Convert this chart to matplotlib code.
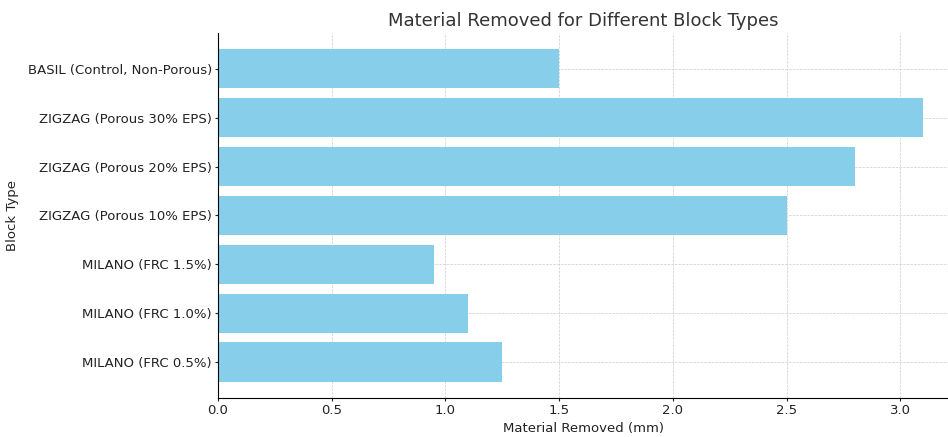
import matplotlib
matplotlib.use("Agg")
from matplotlib import pyplot as plt

# tipos de bloco (de baixo para cima) e material removido em mm
block_types = ["MILANO (FRC 0.5%)", "MILANO (FRC 1.0%)", "MILANO (FRC 1.5%)",
               "ZIGZAG (Porous 10% EPS)", "ZIGZAG (Porous 20% EPS)",
               "ZIGZAG (Porous 30% EPS)", "BASIL (Control, Non-Porous)"]
material_removed = [1.25, 1.1, 0.95, 2.5, 2.8, 3.1, 1.5]

fig = plt.figure(figsize=(9.48, 4.37), dpi=100)
ax = fig.add_axes([0.23, 0.089, 0.77, 0.836])
ax.barh(block_types, material_removed, color="skyblue", height=0.8, zorder=2)

ax.set_xlim(0, 3.21)
ax.set_title("Material Removed for Different Block Types", fontsize=13, color="#333333", pad=5)
ax.set_xlabel("Material Removed (mm)", fontsize=9.5, color="#222222", labelpad=3)
ax.set_ylabel("Block Type", fontsize=9.5, color="#222222", labelpad=6)
ax.tick_params(labelsize=9.5, colors="#222222", length=2, pad=2.5)
ax.grid(True, linestyle="--", linewidth=0.5, color="#cccccc", zorder=0)
ax.spines["top"].set_visible(False)
ax.spines["right"].set_visible(False)

fig.savefig("out.png", dpi=100)
